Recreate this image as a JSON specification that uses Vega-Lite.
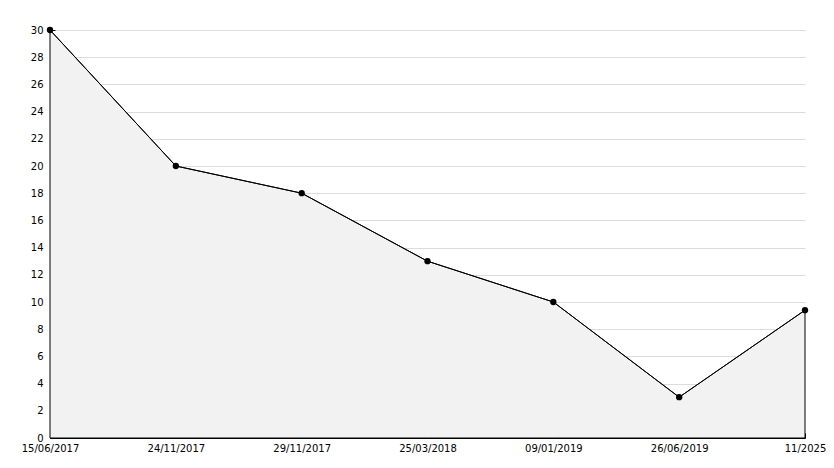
{
  "$schema": "https://vega.github.io/schema/vega-lite/v6.json",
  "width": 755,
  "height": 408,
  "autosize": {"type": "none"},
  "padding": {"left": 50, "top": 30, "right": 29, "bottom": 30},
  "background": "white",
  "config": {
    "view": {"stroke": null},
    "axis": {"labelFont": "DejaVu Sans", "labelFontSize": 10, "labelColor": "black", "domainColor": "black", "tickColor": "black"}
  },
  "data": {
    "values": [
      {"date": "15/06/2017", "value": 30},
      {"date": "24/11/2017", "value": 20},
      {"date": "29/11/2017", "value": 18},
      {"date": "25/03/2018", "value": 13},
      {"date": "09/01/2019", "value": 10},
      {"date": "26/06/2019", "value": 3},
      {"date": "11/2025", "value": 9.4}
    ]
  },
  "encoding": {
    "x": {
      "field": "date", "type": "ordinal", "sort": null,
      "scale": {"type": "point", "padding": 0},
      "axis": {"title": null, "labelAngle": 0, "tickSize": -5, "labelPadding": 10, "grid": false, "domainWidth": 1}
    },
    "y": {
      "field": "value", "type": "quantitative",
      "scale": {"domain": [0, 30], "nice": false},
      "axis": {
        "title": null,
        "values": [0,1,2,3,4,5,6,7,8,9,10,11,12,13,14,15,16,17,18,19,20,21,22,23,24,25,26,27,28,29,30],
        "labelExpr": "datum.value % 2 == 0 ? datum.label : ''",
        "tickSize": -5,
        "labelPadding": 12,
        "grid": true,
        "gridColor": "#dcdcdc",
        "gridOpacity": {"condition": {"test": "datum.value % 2 == 0 && datum.value > 0", "value": 1}, "value": 0},
        "labelFlush": false
      }
    }
  },
  "layer": [
    {"mark": {"type": "area", "color": "#f2f2f2", "stroke": "black", "strokeWidth": 1}},
    {"mark": {"type": "line", "color": "black", "strokeWidth": 1}},
    {"mark": {"type": "point", "filled": true, "color": "black", "size": 40, "opacity": 1}}
  ]
}
